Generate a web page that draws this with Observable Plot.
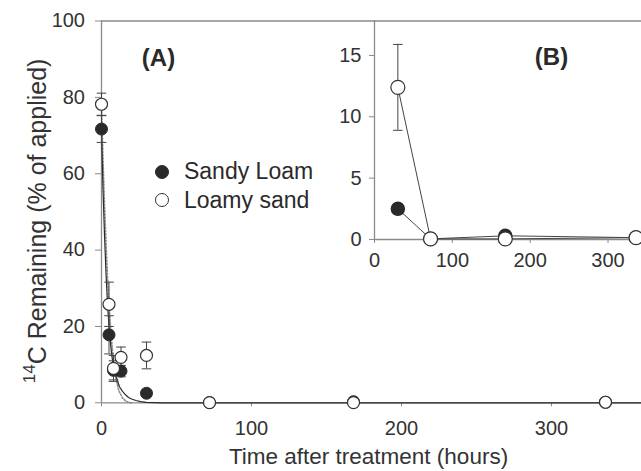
<!DOCTYPE html>
<html><head><meta charset="utf-8">
<script src="https://cdn.jsdelivr.net/npm/d3@7"></script>
<script src="https://cdn.jsdelivr.net/npm/@observablehq/plot@0.6"></script>
<style>
body{margin:0;background:#fff;}
#wrap{position:relative;width:641px;height:471px;overflow:hidden;font-family:"Liberation Sans",Arial,sans-serif;}
#wrap svg{position:absolute;left:0;top:0;}
#legend{position:absolute;left:154.7px;top:157.5px;font-size:23px;color:#2a2a2a;}
#legend .row{display:flex;align-items:center;height:28.5px;}
#legend .sym{display:inline-block;box-sizing:border-box;width:14px;height:14px;border-radius:50%;margin-right:15.3px;}
</style></head><body><div id="wrap"></div>
<script>
// ---- data ----
const seriesNames = ["Sandy Loam", "Loamy sand"];
const times      = [0, 5, 8, 13, 30, 72, 168, 336];
const sandyLoam  = [71.7, 17.8, 8.5, 8.3, 2.5, 0.05, 0.3, 0.15];
const sandyErr   = [3.5, 5.0, 2.5, 1.5, 0.4, 0, 0, 0];
const loamySand  = [78.2, 25.8, 9.0, 11.9, 12.4, 0.05, 0.05, 0.15];
const loamyErr   = [2.9, 5.8, 3.4, 2.7, 3.5, 0, 0, 0];
// fitted curves
const fitSandyT  = [0, 1, 2, 3, 4, 5, 6, 7, 8, 10, 12, 14, 16, 18, 20, 23, 26, 30, 40, 360];
const fitSandyV  = [71.5, 56, 44, 34, 26, 20, 15.5, 12, 9.5, 6.5, 4.2, 3.0, 2.1, 1.4, 1.0, 0.6, 0.3, 0.1, 0, 0];
const fitLoamyT  = [0, 1, 2, 3, 4, 5, 6, 7, 8, 9, 10, 11, 12, 14, 16, 18, 20];
const fitLoamyV  = [78, 64, 52, 42, 33, 26, 20, 15, 11, 8, 5.8, 4.0, 2.8, 1.3, 0.5, 0.1, 0];
const mainXTicks = [0, 100, 200, 300];
const mainYTicks = [0, 20, 40, 60, 80, 100];
const insetXTicks = [0, 100, 200, 300];
const insetYTicks = [0, 5, 10, 15];
const insetFrom = 30; // inset shows times >= 30 h
const xTitle = "Time after treatment (hours)";
const yTitle = "14C Remaining (% of applied)";

// ---- tables ----
const sandy = times.map((t, i) => ({t, v: sandyLoam[i], lo: sandyLoam[i] - sandyErr[i], hi: sandyLoam[i] + sandyErr[i], e: sandyErr[i]}));
const loamy = times.map((t, i) => ({t, v: loamySand[i], lo: loamySand[i] - loamyErr[i], hi: loamySand[i] + loamyErr[i], e: loamyErr[i]}));
const fitS = fitSandyT.map((t, i) => ({t, v: fitSandyV[i]}));
const fitL = fitLoamyT.map((t, i) => ({t, v: fitLoamyV[i]}));
const errS = sandy.filter(d => d.e > 0), errL = loamy.filter(d => d.e > 0);
const insS = sandy.filter(d => d.t >= insetFrom), insL = loamy.filter(d => d.t >= insetFrom);
const insErrL = insL.filter(d => d.e > 0), insErrS = insS.filter(d => d.e > 0);

const capSymbol = {draw(ctx, size) { const w = Math.sqrt(size / Math.PI); ctx.moveTo(-w, 0); ctx.lineTo(w, 0); }};
const axisCol = "#8a8a8a", textCol = "#333", dark = "#2a2a2a";
const font = {fontFamily: '"Liberation Sans", Arial, sans-serif', fontSize: "20px", color: textCol, background: "transparent", overflow: "visible"};

function errMarks(data) {
  return [
    Plot.ruleX(data, {x: "t", y1: "lo", y2: "hi", stroke: "#444", strokeWidth: 1}),
    Plot.dot(data, {x: "t", y: "hi", symbol: capSymbol, r: 4.8, stroke: "#444", strokeWidth: 1, fill: "none"}),
    Plot.dot(data, {x: "t", y: "lo", symbol: capSymbol, r: 4.8, stroke: "#444", strokeWidth: 1, fill: "none"})
  ];
}

const main = Plot.plot({
  width: 641, height: 471,
  marginLeft: 101, marginRight: 0, marginTop: 20.5, marginBottom: 68.7,
  style: font,
  x: {domain: [0, 360]},
  y: {domain: [0, 100]},
  marks: [
    Plot.ruleY([100], {stroke: axisCol, strokeWidth: 1.3}),
    Plot.ruleX([0], {stroke: axisCol, strokeWidth: 1.3}),
    Plot.ruleY([0], {stroke: axisCol, strokeWidth: 1.3}),
    Plot.axisX({ticks: mainXTicks, tickSize: 4, tickPadding: 14, stroke: axisCol, fill: textCol, label: null}),
    Plot.axisY({ticks: mainYTicks, tickSize: 6, tickPadding: 10.5, stroke: axisCol, fill: textCol, label: null}),
    Plot.line(fitL, {x: "t", y: "v", stroke: "#8c8c8c", strokeWidth: 1.6, strokeDasharray: "1.5,1.8"}),
    Plot.line(fitS, {x: "t", y: "v", stroke: dark, strokeWidth: 1.2}),
    ...errMarks(errS),
    ...errMarks(errL),
    Plot.dot(sandy, {x: "t", y: "v", r: 6, fill: dark, stroke: dark, strokeWidth: 1}),
    Plot.dot(loamy, {x: "t", y: "v", r: 6, fill: "white", stroke: "#333", strokeWidth: 1.2}),
    Plot.text(["(A)"], {frameAnchor: "top-left", dx: 57, dy: 27.5, text: d => d, fontSize: 24, fontWeight: "bold", fill: dark, textAnchor: "middle"}),
    Plot.text([xTitle], {frameAnchor: "bottom", dy: 61, text: d => d, fontSize: 22.5, fill: textCol, textAnchor: "middle", dx: -3}),
    Plot.text([yTitle], {frameAnchor: "left", dx: -67, dy: 9, rotate: -90, text: d => d, fontSize: 25, fill: textCol, textAnchor: "middle"})
  ]
});

const inset = Plot.plot({
  width: 641, height: 471,
  marginLeft: 374, marginRight: 0, marginTop: 20, marginBottom: 232,
  style: font,
  x: {domain: [0, 343]},
  y: {domain: [0, 17.85]},
  marks: [
    Plot.ruleX([0], {stroke: axisCol, strokeWidth: 1.3}),
    Plot.ruleY([0], {stroke: axisCol, strokeWidth: 1.3}),
    Plot.axisX({ticks: insetXTicks, tickSize: 4, tickPadding: 9, stroke: axisCol, fill: textCol, label: null}),
    Plot.axisY({ticks: insetYTicks, tickSize: 5, tickPadding: 8, stroke: axisCol, fill: textCol, label: null}),
    Plot.line(insS, {x: "t", y: "v", stroke: "#444", strokeWidth: 1}),
    Plot.line(insL, {x: "t", y: "v", stroke: "#444", strokeWidth: 1}),
    ...errMarks(insErrS),
    ...errMarks(insErrL),
    Plot.dot(insS, {x: "t", y: "v", r: 6.5, fill: dark, stroke: dark}),
    Plot.dot(insL, {x: "t", y: "v", r: 7, fill: "white", stroke: "#333", strokeWidth: 1.2}),
    Plot.text(["(B)"], {frameAnchor: "top-left", dx: 177, dy: 27.5, text: d => d, fontSize: 24, fontWeight: "bold", fill: dark, textAnchor: "middle"})
  ]
});

const wrap = document.getElementById("wrap");
wrap.appendChild(main);
wrap.appendChild(inset);

// superscript for the y title
d3.select(main).selectAll("text").each(function() {
  if (this.textContent === yTitle) {
    const el = d3.select(this);
    el.text(null);
    el.append("tspan").attr("font-size", 17).attr("dy", "-0.45em").text(yTitle.slice(0, 2));
    el.append("tspan").attr("dy", "0.45em").text(yTitle.slice(2));
  }
});

// legend
const legend = d3.select(wrap).append("div").attr("id", "legend");
seriesNames.forEach((name, i) => {
  const row = legend.append("div").attr("class", "row");
  row.append("span").attr("class", "sym")
    .style("background", i === 0 ? dark : "#fff")
    .style("border", i === 0 ? "1px solid " + dark : "1.3px solid #333");
  row.append("span").text(name);
});
</script></body></html>
